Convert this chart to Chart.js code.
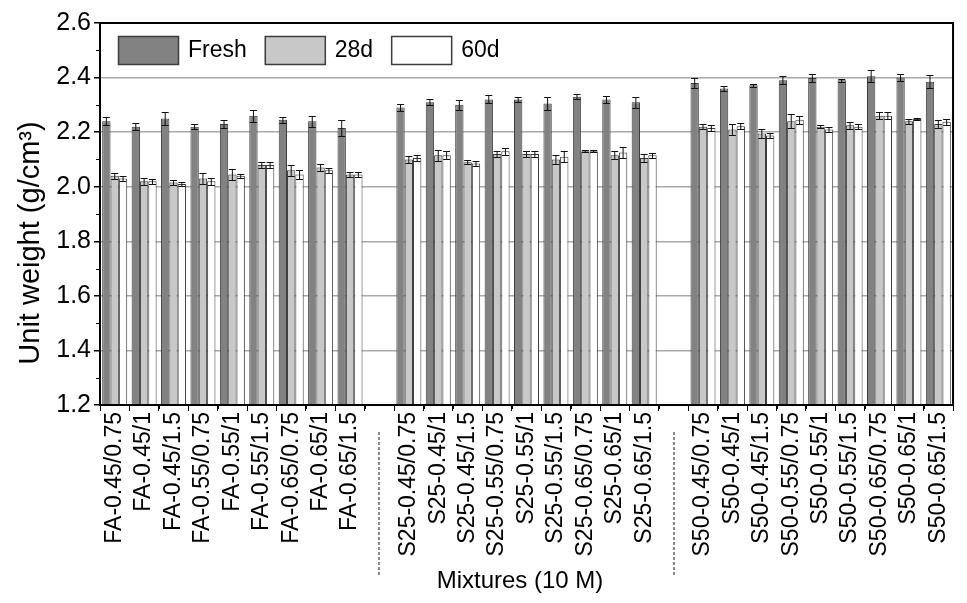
<!DOCTYPE html>
<html>
<head>
<meta charset="utf-8">
<script src="https://cdn.jsdelivr.net/npm/chart.js@4.4.1/dist/chart.umd.min.js"></script>
<style>
  body { margin: 0; background: #fff; }
  #unitWeight { display: block; }
</style>
</head>
<body>
<canvas id="unitWeight" width="967" height="603"></canvas>
<script>
// mixtures, empty slots are the gaps between the FA / S25 / S50 groups
const mixtures = [
    'FA-0.45/0.75', 'FA-0.45/1', 'FA-0.45/1.5', 'FA-0.55/0.75', 'FA-0.55/1', 'FA-0.55/1.5', 'FA-0.65/0.75', 'FA-0.65/1', 'FA-0.65/1.5',
    '',
    'S25-0.45/0.75', 'S25-0.45/1', 'S25-0.45/1.5', 'S25-0.55/0.75', 'S25-0.55/1', 'S25-0.55/1.5', 'S25-0.65/0.75', 'S25-0.65/1', 'S25-0.65/1.5',
    '',
    'S50-0.45/0.75', 'S50-0.45/1', 'S50-0.45/1.5', 'S50-0.55/0.75', 'S50-0.55/1', 'S50-0.55/1.5', 'S50-0.65/0.75', 'S50-0.65/1', 'S50-0.65/1.5'
];

const fresh = [2.24, 2.22, 2.25, 2.22, 2.23, 2.26, 2.245, 2.24, 2.215, null,
               2.29, 2.31, 2.30, 2.32, 2.32, 2.305, 2.33, 2.32, 2.31, null,
               2.38, 2.36, 2.372, 2.39, 2.398, 2.39, 2.405, 2.40, 2.385];
const freshErr = [0.015, 0.012, 0.022, 0.01, 0.013, 0.022, 0.012, 0.02, 0.03, null,
                  0.012, 0.012, 0.018, 0.015, 0.01, 0.025, 0.01, 0.012, 0.02, null,
                  0.018, 0.01, 0.005, 0.015, 0.015, 0.005, 0.022, 0.012, 0.025];

const d28 = [2.04, 2.02, 2.015, 2.03, 2.045, 2.08, 2.06, 2.07, 2.045, null,
             2.10, 2.115, 2.09, 2.12, 2.12, 2.10, 2.13, 2.115, 2.105, null,
             2.22, 2.21, 2.195, 2.24, 2.22, 2.225, 2.26, 2.24, 2.23];
const d28Err = [0.012, 0.012, 0.01, 0.02, 0.02, 0.01, 0.02, 0.012, 0.01, null,
                0.012, 0.02, 0.008, 0.012, 0.01, 0.015, 0.003, 0.015, 0.015, null,
                0.01, 0.02, 0.015, 0.025, 0.005, 0.012, 0.012, 0.01, 0.015];

const d60 = [2.03, 2.02, 2.01, 2.02, 2.04, 2.08, 2.045, 2.06, 2.045, null,
             2.105, 2.115, 2.085, 2.13, 2.12, 2.11, 2.13, 2.125, 2.115, null,
             2.215, 2.222, 2.188, 2.245, 2.21, 2.22, 2.26, 2.248, 2.238];
const d60Err = [0.01, 0.01, 0.008, 0.012, 0.008, 0.01, 0.015, 0.01, 0.01, null,
                0.01, 0.015, 0.01, 0.012, 0.01, 0.02, 0.003, 0.02, 0.01, null,
                0.01, 0.01, 0.01, 0.015, 0.01, 0.01, 0.012, 0.003, 0.01];

const yTicks = [1.2, 1.4, 1.6, 1.8, 2.0, 2.2, 2.4, 2.6];
const gapSlots = [9, 19];

const FONT = "'Liberation Sans', Arial, sans-serif";

const errorBars = {
    id: 'errorBars',
    afterDatasetsDraw(chart) {
        const ctx = chart.ctx;
        const y = chart.scales.y;
        ctx.save();
        ctx.strokeStyle = '#111';
        ctx.lineWidth = 1;
        chart.data.datasets.forEach((ds, i) => {
            const meta = chart.getDatasetMeta(i);
            meta.data.forEach((bar, j) => {
                const v = ds.data[j];
                const e = ds.errors[j];
                if (v == null || e == null) return;
                const top = Math.round(y.getPixelForValue(v + e)) + 0.5;
                const bot = Math.round(y.getPixelForValue(v - e)) + 0.5;
                const half = bar.width * 0.42;
                ctx.beginPath();
                ctx.moveTo(bar.x, top);
                ctx.lineTo(bar.x, bot);
                ctx.moveTo(bar.x - half, top);
                ctx.lineTo(bar.x + half, top);
                ctx.moveTo(bar.x - half, bot);
                ctx.lineTo(bar.x + half, bot);
                ctx.stroke();
            });
        });
        ctx.restore();
    }
};

// legend row in the top-left corner of the plot, titles and frame
const decorations = {
    id: 'decorations',
    afterDraw(chart) {
        const ctx = chart.ctx;
        const a = chart.chartArea;
        const x = chart.scales.x;
        const y = chart.scales.y;
        ctx.save();
        ctx.strokeStyle = '#000';

        // minor ticks
        ctx.lineWidth = 1;
        ctx.beginPath();
        for (let v = 1.3; v < 2.6; v += 0.2) {
            const py = Math.round(y.getPixelForValue(v)) + 0.5;
            ctx.moveTo(a.left, py);
            ctx.lineTo(a.left - 4, py);
        }
        const slot = x.getPixelForValue(1) - x.getPixelForValue(0);
        for (let i = 0; i < mixtures.length - 1; i++) {
            const px = Math.round(x.getPixelForValue(i) + slot / 2) + 0.5;
            ctx.moveTo(px, a.bottom);
            ctx.lineTo(px, a.bottom + 4);
        }
        ctx.stroke();

        // plot frame
        ctx.lineWidth = 2;
        ctx.strokeRect(a.left, a.top, a.right - a.left, a.bottom - a.top);

        // dashed group separators
        ctx.strokeStyle = '#666';
        ctx.lineWidth = 1.5;
        ctx.setLineDash([3, 2]);
        gapSlots.forEach((g) => {
            const px = Math.round(x.getPixelForValue(g));
            ctx.beginPath();
            ctx.moveTo(px, 432);
            ctx.lineTo(px, 577);
            ctx.stroke();
        });
        ctx.setLineDash([]);

        // legend
        ctx.font = '23px ' + FONT;
        ctx.textBaseline = 'middle';
        ctx.textAlign = 'left';
        let lx = a.left + 18;
        const ly = a.top + 13;
        chart.data.datasets.forEach((ds) => {
            ctx.fillStyle = ds.backgroundColor;
            ctx.fillRect(lx, ly, 60, 28);
            ctx.strokeStyle = '#3c3c3c';
            ctx.lineWidth = 1.5;
            ctx.strokeRect(lx + 0.5, ly + 0.5, 60, 28);
            ctx.fillStyle = '#000';
            ctx.fillText(ds.label, lx + 70, ly + 15);
            lx += 70 + ctx.measureText(ds.label).width + 18;
        });

        // axis titles
        ctx.fillStyle = '#000';
        ctx.textAlign = 'center';
        ctx.font = '24px ' + FONT;
        ctx.fillText('Mixtures (10 M)', 520, 581);

        ctx.translate(31, 243);
        ctx.rotate(-Math.PI / 2);
        ctx.font = '29px ' + FONT;
        ctx.fillText('Unit weight (g/cm³)', 0, 0);
        ctx.restore();
    }
};

const ctx = document.getElementById('unitWeight').getContext('2d');

const config = {
    type: 'bar',
    data: {
        labels: mixtures,
        datasets: [
            { label: 'Fresh', data: fresh, errors: freshErr, backgroundColor: '#828282', borderColor: '#3c3c3c', borderWidth: 1 },
            { label: '28d', data: d28, errors: d28Err, backgroundColor: '#c8c8c8', borderColor: '#3c3c3c', borderWidth: 1 },
            { label: '60d', data: d60, errors: d60Err, backgroundColor: '#ffffff', borderColor: '#3c3c3c', borderWidth: 1 },
        ],
    },
    options: {
        responsive: false,
        animation: false,
        datasets: {
            bar: { barPercentage: 1.0, categoryPercentage: 0.85 }
        },
        layout: { padding: { top: 23, right: 4, left: 0, bottom: 0 } },
        plugins: {
            legend: { display: false },
            tooltip: { enabled: false },
        },
        scales: {
            x: {
                afterFit: (scale) => { scale.height = 198; },
                grid: { display: true, drawOnChartArea: false, color: '#000', tickLength: 6 },
                border: { display: true, color: '#000', width: 2 },
                ticks: {
                    autoSkip: false,
                    maxRotation: 90,
                    minRotation: 90,
                    padding: 1,
                    color: '#000',
                    font: { family: FONT, size: 23 },
                },
            },
            y: {
                min: 1.2,
                max: 2.6,
                afterFit: (scale) => { scale.width = 100; },
                afterBuildTicks: (scale) => { scale.ticks = yTicks.map((v) => ({ value: v })); },
                grid: {
                    color: (c) => (c.tick && (c.tick.value === 1.2 || c.tick.value === 2.6)) ? 'rgba(0,0,0,0)' : '#aaaaaa',
                    tickColor: '#000',
                    tickLength: 6,
                    lineWidth: 1.5,
                },
                border: { display: true, color: '#000', width: 2 },
                ticks: {
                    padding: 3,
                    color: '#000',
                    font: { family: FONT, size: 25 },
                    callback: (v) => Number(v).toFixed(1),
                },
            },
        },
    },
    plugins: [errorBars, decorations],
};

const chart = new Chart(ctx, config);
</script>
</body>
</html>
